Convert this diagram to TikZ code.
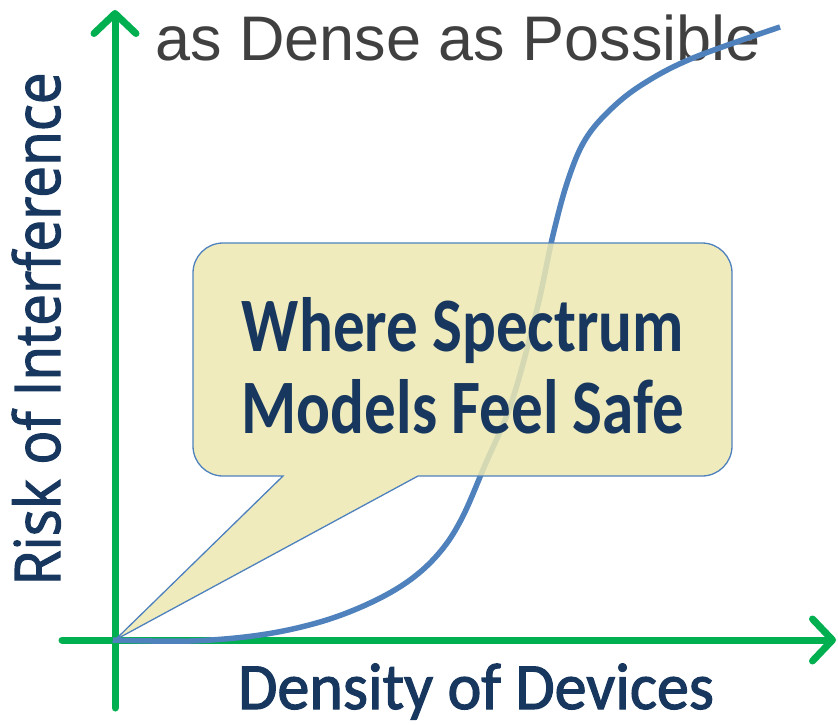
\documentclass[tikz,border=0pt]{standalone}
\usepackage{fontspec}
\setmainfont{Carlito}
\newfontfamily\titlefont{Liberation Sans}
\newfontfamily\riskfont[FakeStretch=0.9, FakeBold=1.8]{Open Sans}
\newfontfamily\bubblefont[FakeStretch=0.82]{Carlito}
\newfontfamily\densityfont[FakeStretch=0.97, FakeBold=1.8]{Carlito}
\usetikzlibrary{arrows.meta}

\begin{document}
\begin{tikzpicture}[x=1pt, y=-1pt,
    axis/.style={line width=7pt, draw=axisgreen, line cap=round, -{Straight Barb[length=20pt, width=42pt, line cap=round, round]}},
    curve/.style={line width=5.5pt, draw=curveblue},
    bubble/.style={draw=curveblue, line width=1.3pt, fill=bubblefill, fill opacity=0.85},
    label/.style={inner sep=0pt, text=labelnavy}]
        \definecolor{axisgreen}{RGB}{0,176,80}
        \definecolor{curveblue}{RGB}{79,129,189}
        \definecolor{labelnavy}{RGB}{23,55,94}
        \definecolor{bubblefill}{RGB}{236,232,178}
        \definecolor{titlegray}{RGB}{64,64,64}

        \useasboundingbox (0,0) rectangle (838,725);

        % Axes
        \coordinate (origin) at (115,640);
        \coordinate (xstart) at (62,640);
        \coordinate (xend) at (836,640);
        \coordinate (ystart) at (115,708);
        \coordinate (yend) at (115,10);
        \draw[axis] (xstart) -- (xend);
        \draw[axis] (ystart) -- (yend);

        % Title text
        \node[inner sep=0pt, text=titlegray, anchor=base west, font=\titlefont\fontsize{63}{70}\selectfont] (title) at (155,61) {as Dense as Possible};

        % Risk curve
        \draw[curve] plot[smooth, tension=0.6] coordinates {(113,640) (190,641) (260,635) (320,622) (370,603) (410,580) (440,552) (462,518) (485,465) (512,401) (537,309) (553,235) (568,180) (585,140) (610,110) (643,84) (693,58) (780,27)};

        % Speech bubble
        \draw[bubble] (240,476) [rounded corners=30pt] -- (193,476) -- (193,243) -- (732,243) -- (732,476) -- (600,476) [sharp corners] -- (418,476) -- (origin) -- (283,476) -- cycle;
        \node[label, align=center, font=\bubblefont\bfseries\fontsize{77}{82}\selectfont] (safe) at (463,366) {Where Spectrum\\Models Feel Safe};

        % Axis labels
        \node[label, anchor=base, font=\densityfont\fontsize{66}{70}\selectfont] (xlabel) at (476,709) {Density of Devices};
        \node[label, anchor=base, rotate=90, font=\riskfont\fontsize{63}{70}\selectfont] (ylabel) at (60,329) {Risk of Interference};
\end{tikzpicture}
\end{document}
